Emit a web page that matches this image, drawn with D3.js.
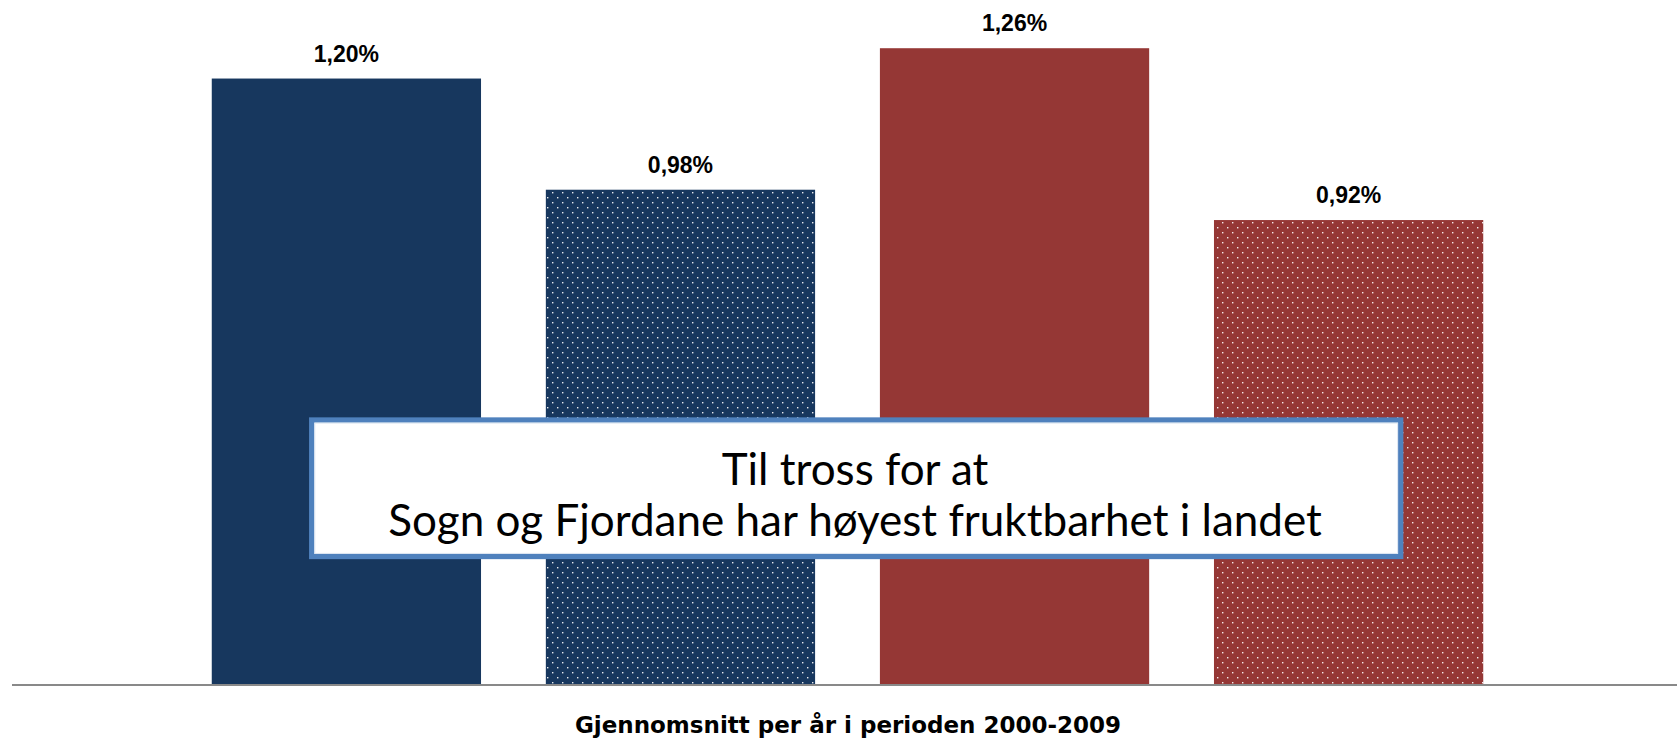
<!DOCTYPE html>
<html>
<head>
<meta charset="utf-8">
<script src="https://cdn.jsdelivr.net/npm/d3@7"></script>
<style>
  body { margin: 0; background: #fff; }
</style>
</head>
<body>
<div id="chart"></div>
<script>
// data
const categories = ["A", "B", "C", "D"]
const values = [1.20, 0.98, 1.26, 0.92]
const labels = ["1,20%", "0,98%", "1,26%", "0,92%"]
const fills = ["solid", "dots", "solid", "dots"]
const colors = ["#17375e", "#17375e", "#953735", "#953735"]
const axisTitle = "Gjennomsnitt per år i perioden 2000-2009"
const noteLines = ["Til tross for at", "Sogn og Fjordane har høyest fruktbarhet i landet"]

const width = 1677, height = 742
const baseline = 685

const svg = d3.select("#chart").append("svg")
    .attr("width", width)
    .attr("height", height)

// dotted patterns
const defs = svg.append("defs")
;["#17375e", "#953735"].forEach((c, i) => {
    const p = defs.append("pattern")
        .attr("id", "dots" + i)
        .attr("patternUnits", "userSpaceOnUse")
        .attr("width", 10)
        .attr("height", 10)
    p.append("rect").attr("width", 10).attr("height", 10).attr("fill", c)
    p.append("rect").attr("x", 2).attr("y", 2).attr("width", 1.4).attr("height", 1.4)
        .attr("fill", "#fff").attr("opacity", 0.9)
    p.append("rect").attr("x", 7).attr("y", 7).attr("width", 1.4).attr("height", 1.4)
        .attr("fill", "#fff").attr("opacity", 0.9)
})

const xScale = d3.scaleBand()
    .domain(categories)
    .range([18, 1677])
    .paddingInner(0.194)
    .paddingOuter(0.58)

const yScale = d3.scaleLinear()
    .domain([0, 1.3])
    .range([baseline, 28])

const fillFor = i => fills[i] === "dots"
    ? "url(#dots" + (colors[i] === "#17375e" ? 0 : 1) + ")"
    : colors[i]

svg.selectAll(".bar")
    .data(values)
    .enter()
    .append("rect")
    .attr("class", "bar")
    .attr("x", (d, i) => xScale(categories[i]))
    .attr("y", d => yScale(d))
    .attr("width", xScale.bandwidth())
    .attr("height", d => baseline - yScale(d))
    .attr("fill", (d, i) => fillFor(i))

svg.selectAll(".label")
    .data(values)
    .enter()
    .append("text")
    .attr("class", "label")
    .attr("x", (d, i) => xScale(categories[i]) + xScale.bandwidth() / 2)
    .attr("y", d => yScale(d) - 17)
    .attr("text-anchor", "middle")
    .attr("font-family", "'Liberation Sans', Arial, sans-serif")
    .attr("font-weight", "bold")
    .attr("font-size", 23)
    .attr("fill", "#000")
    .text((d, i) => labels[i])

// axis line
svg.append("line")
    .attr("x1", 12)
    .attr("x2", width)
    .attr("y1", baseline)
    .attr("y2", baseline)
    .attr("stroke", "#898989")
    .attr("stroke-width", 2)

svg.append("text")
    .attr("x", 848)
    .attr("y", 733)
    .attr("text-anchor", "middle")
    .attr("font-family", "'DejaVu Sans', sans-serif")
    .attr("font-weight", "bold")
    .attr("font-size", 23)
    .attr("fill", "#000")
    .text(axisTitle)

// annotation box
const box = svg.append("g")
box.append("rect")
    .attr("x", 311.7)
    .attr("y", 420)
    .attr("width", 1089)
    .attr("height", 136.5)
    .attr("fill", "#fff")
    .attr("stroke", "#4f81bd")
    .attr("stroke-width", 5.3)
box.append("rect")
    .attr("x", 314.8)
    .attr("y", 423.1)
    .attr("width", 1082.8)
    .attr("height", 130.3)
    .attr("fill", "none")
    .attr("stroke", "#dbe5f1")
    .attr("stroke-width", 1)

box.selectAll(".note")
    .data(noteLines)
    .enter()
    .append("text")
    .attr("class", "note")
    .attr("x", 855)
    .attr("y", (d, i) => 485 + i * 51)
    .attr("text-anchor", "middle")
    .attr("font-family", "Lato, sans-serif")
    .attr("font-size", 44)
    .attr("fill", "#000")
    .text(d => d)
</script>
</body>
</html>
